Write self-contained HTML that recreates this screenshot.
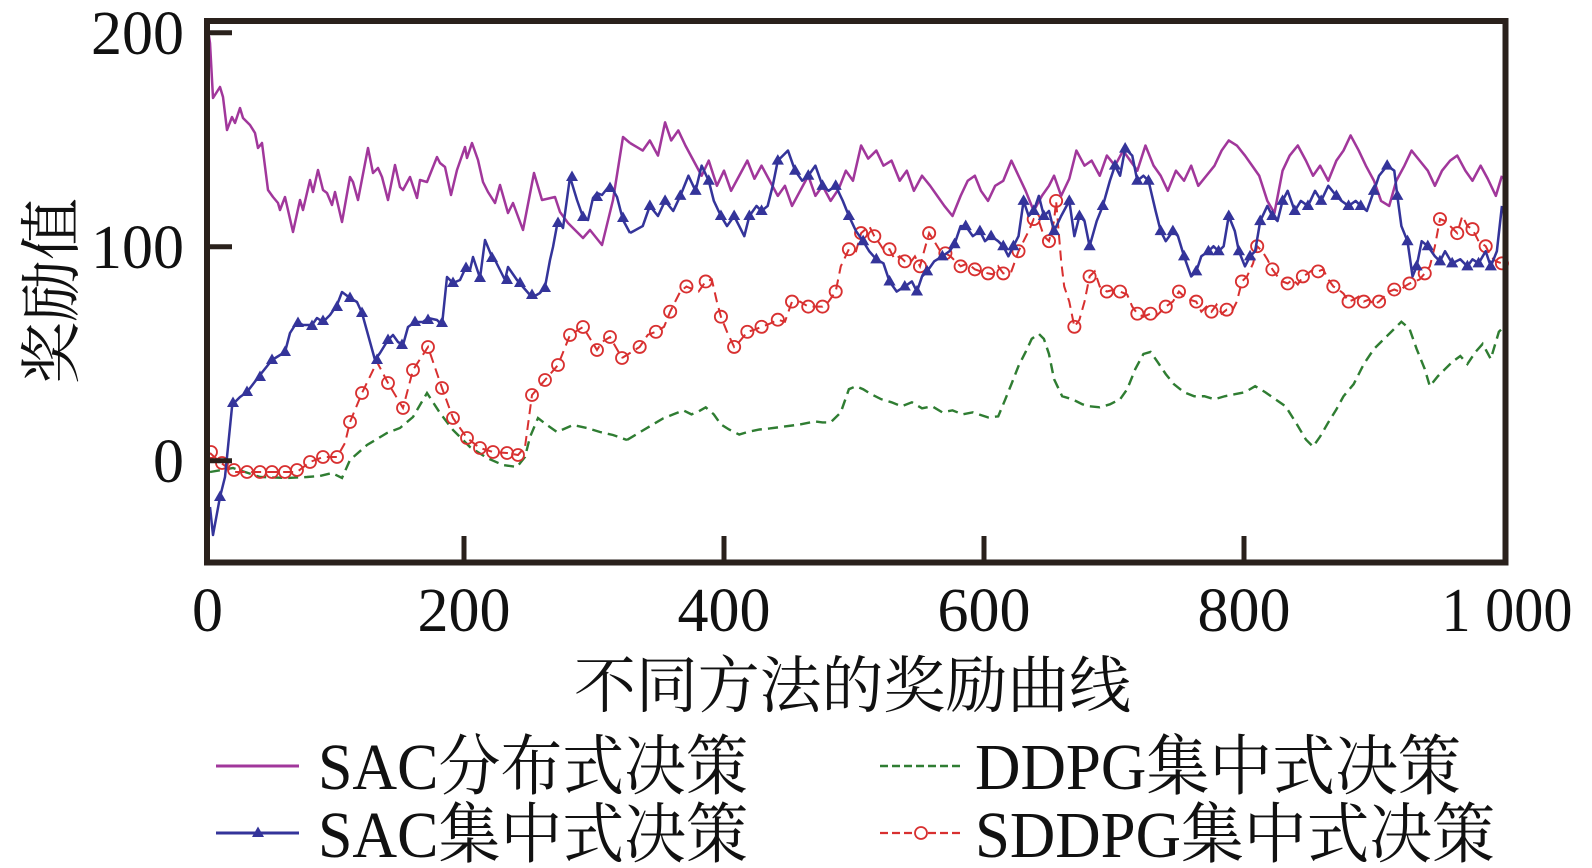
<!DOCTYPE html>
<html><head><meta charset="utf-8"><style>
html,body{margin:0;padding:0;background:#fff;}
svg{display:block;}
text{font-family:"Liberation Serif","Noto Serif CJK SC",serif;fill:#111;}
</style></head><body>
<svg width="1592" height="868" viewBox="0 0 1592 868" xmlns="http://www.w3.org/2000/svg">
<defs>
<marker id="tri" markerUnits="userSpaceOnUse" markerWidth="16" markerHeight="16" refX="8" refY="8" viewBox="0 0 16 16" overflow="visible"><path d="M8,1.5 L14,12 L2,12 Z" fill="#34349a"/></marker>
<marker id="cir" markerUnits="userSpaceOnUse" markerWidth="18" markerHeight="18" refX="9" refY="9" viewBox="0 0 18 18" overflow="visible"><circle cx="9" cy="9" r="6" fill="none" stroke="#d83030" stroke-width="1.8"/></marker>
</defs>
<rect width="1592" height="868" fill="#fff"/>

<!-- GREEN DDPG -->
<polyline fill="none" stroke="#2f7d32" stroke-width="2.4" stroke-dasharray="10 6" points="210,472 233,468 260,477 287,478 307,477 320,476 332,473 342,478 350,460 367,445 387,433 400,428 413,417 427,393 440,413 453,430 470,447 487,458 503,465 517,467 525,457 530,437 538,418 547,425 557,432 573,425 587,428 600,432 613,435 627,440"/>
<g transform="matrix(1.0156 0 0 1.007 -2.17 -0.5)">
<polyline fill="none" stroke="#2f7d32" stroke-width="2.4" stroke-dasharray="10 6" points="619.5,437.4 635,428 645,422 655,416 665,412 675,408 683,412 690,409 697,405 705,412 712,422 720,427 730,432 740,429 750,427 760,426 775,424 790,422 805,419 812,420 820,420 830,410 838,387 845,384 852,387 860,392 870,397 880,400 890,404 900,400 910,406 920,404 930,410 940,408 950,412 960,410 975,415 985,414 992,397 998,382 1005,364 1012,350 1018,337 1025,332 1030,337 1035,352 1040,377 1048,394 1058,397 1068,402 1075,404 1085,405 1095,402 1105,397 1112,387 1120,367 1128,352 1135,350 1142,360 1150,372 1158,382 1168,390 1178,394 1188,394 1198,397 1208,394 1218,392 1228,390 1238,384 1248,390 1258,397 1268,404 1278,420 1288,437 1295,444 1302,434 1310,420 1318,407 1325,394 1335,382 1345,362 1355,347 1365,337 1375,327 1382,320 1390,327 1397,347 1405,367 1410,384 1418,374 1425,367 1432,360 1440,354 1447,362 1455,350 1462,342 1470,357 1478,330 1481,327"/>
</g>

<!-- RED SDDPG -->
<polyline fill="none" stroke="#d83030" stroke-width="2" stroke-dasharray="10 6" points="210,453 220,462 233,472 247,472 260,472 272,472 285,472 297,472 310,462 323,457 337,457 345,443 350,422 362,393 377,362 388,383 403,408 413,370 428,347 442,388 453,418 467,438 480,448 493,452 507,453 518,455 525,447 532,395 545,380 558,365 570,335 583,327 597,350 602,342 610,337 622,358"/>
<polyline fill="none" stroke="none" marker-start="url(#cir)" marker-mid="url(#cir)" marker-end="url(#cir)" points="211,452 222,463 234,470 247,472 260,472 272,472 285,472 297,470 310,462 323,457 337,457 350,422 362,393 388,383 403,408 413,370 428,347 442,388 453,418 467,438 480,448 493,452 507,453 518,455 532,395 545,380 558,365 570,335 583,327 597,350 610,337 622,358"/>
<g transform="matrix(1.0156 0 0 1.007 -2.17 -0.5)">
<polyline fill="none" stroke="#d83030" stroke-width="2" stroke-dasharray="10 6" points="614.6,356 632,345 640,333 648,330 656,325 662,310 667,300 672,290 678,285 685,288 690,290 697,280 703,278 708,300 712,315 718,330 725,345 730,340 738,330 745,328 752,325 760,322 768,318 775,320 782,300 790,300 798,305 805,305 812,305 818,300 825,290 830,265 838,248 845,250 850,232 858,225 863,235 868,242 873,250 878,248 883,258 888,255 893,260 898,262 903,255 908,265 912,250 917,232 922,240 928,250 933,252 938,255 943,260 948,265 955,262 962,268 968,270 975,272 980,273 985,265 990,272 998,270 1005,250 1010,240 1015,230 1020,218 1025,220 1030,235 1035,240 1040,220 1042,200 1047,260 1050,285 1055,300 1060,325 1065,318 1070,300 1075,275 1080,270 1085,285 1092,290 1100,288 1105,290 1112,293 1117,305 1122,312 1128,315 1135,312 1140,315 1145,310 1150,305 1157,300 1163,290 1168,295 1173,298 1180,300 1185,310 1190,305 1195,310 1200,303 1205,312 1210,308 1215,310 1220,300 1225,280 1230,275 1236,262 1240,245 1245,250 1250,258 1255,268 1260,275 1265,280 1270,282 1275,278 1280,283 1285,275 1290,272 1295,268 1300,270 1305,268 1310,278 1315,285 1320,288 1325,292 1330,300 1335,298 1340,295 1345,300 1350,298 1355,303 1360,300 1365,295 1370,290 1375,288 1380,290 1385,285 1390,282 1395,280 1400,278 1405,272 1410,265 1415,245 1420,218 1425,220 1430,225 1437,232 1442,215 1447,225 1452,228 1458,240 1465,245 1470,255 1475,260 1481,262"/>
<polyline fill="none" stroke="none" marker-start="url(#cir)" marker-mid="url(#cir)" marker-end="url(#cir)" points="632,345 648,330 662,310 678,285 697,280 712,315 725,345 738,330 752,325 768,318 782,300 798,305 812,305 825,290 838,248 850,232 863,235 878,248 893,260 908,265 917,232 933,252 948,265 962,268 975,272 990,272 1005,250 1020,218 1035,240 1042,200 1060,325 1075,275 1092,290 1105,290 1122,312 1135,312 1150,305 1163,290 1180,300 1195,310 1210,308 1225,280 1240,245 1255,268 1270,282 1285,275 1300,270 1315,285 1330,300 1345,300 1360,300 1375,288 1390,282 1405,272 1420,218 1437,232 1452,228 1465,245 1481,262"/>
</g>

<!-- PURPLE SAC distributed -->
<polyline fill="none" stroke="#a1379b" stroke-width="2.5" stroke-linejoin="round" points="209,36 210,43 213,98 220,87 223,97 227,130 232,117 235,123 240,108 243,118 250,125 255,133 258,148 262,143 268,190 273,197 278,203 280,210 285,197 293,232 300,200 303,210 310,180 313,192 318,170 323,190 327,193 332,205 335,192 342,222 350,177 353,182 358,200 368,148 373,173 378,168 382,177 388,200 395,165 400,187 403,190 410,177 417,198 420,180 427,182 437,157 440,163 445,167 451,195 457,170 465,147 467,158 472,143 478,160 483,182 488,192 495,203 500,185 508,213 513,203 523,230 534,173 542,200 555,197 560,212 568,223 575,230 583,238 590,230 602,245 613,200 623,137 630,143"/>
<g transform="matrix(1.0156 0 0 1.007 -2.17 -0.5)">
<polyline fill="none" stroke="#a1379b" stroke-width="2.5" stroke-linejoin="round" points="622.5,142.5 635,150 642,140 650,155 657,122 663,140 670,130 677,145 685,160 693,175 700,160 708,185 715,170 722,190 730,175 738,160 745,178 752,165 760,180 768,195 775,185 782,205 790,190 798,175 805,195 812,185 820,200 828,188 835,170 842,180 850,145 857,158 865,150 872,165 880,160 888,180 895,170 902,190 910,175 918,185 925,195 932,205 940,215 948,195 955,180 962,175 968,190 975,200 982,185 990,180 998,160 1005,175 1012,190 1020,210 1028,195 1035,185 1040,175 1047,195 1055,178 1062,150 1070,165 1077,160 1085,175 1092,155 1100,165 1108,150 1115,160 1122,170 1130,145 1138,165 1145,175 1152,190 1160,170 1168,180 1175,165 1182,185 1190,175 1198,165 1205,150 1212,140 1220,145 1228,155 1235,165 1242,175 1250,200 1257,212 1265,170 1272,155 1280,145 1288,160 1295,175 1302,165 1310,180 1318,160 1325,150 1332,135 1340,150 1347,165 1355,180 1362,200 1370,205 1377,180 1385,165 1392,150 1400,160 1408,170 1415,185 1422,170 1430,160 1437,155 1445,170 1452,180 1460,165 1467,178 1475,195 1481,175"/>
</g>

<!-- BLUE SAC centralized -->
<polyline fill="none" stroke="#34349a" stroke-width="2.5" stroke-linejoin="round" points="210,507 213,535 220,497 225,477 232,407 235,402 240,397 247,392 260,375 272,360 285,352 290,333 297,322 303,325 312,325 317,318 323,322 330,315 337,305 342,292 350,298 357,302 362,313 375,360 380,353 388,340 393,335 398,342 403,345 408,327 415,322 423,322 428,318 437,320 442,325 447,277 453,283 460,280 466,267 470,270 473,257 480,278 485,240 492,257 495,260 505,280 508,267 517,280 523,287 530,295 533,297 540,293 545,287 550,260 553,247 558,220 563,228 570,177 577,200 583,217 588,220 593,198 597,193 602,195 610,185 613,190 617,197 623,220 630,233"/>
<polyline fill="none" stroke="none" marker-start="url(#tri)" marker-mid="url(#tri)" marker-end="url(#tri)" points="220,497 233,403 247,392 260,377 272,360 285,352 298,323 312,326 323,321 337,307 350,298 362,313 377,360 388,340 402,345 415,322 428,320 442,323 453,283 466,268 480,278 492,258 507,280 520,283 532,295 545,288 558,223 572,177 583,217 597,197 610,188 623,218"/>
<g transform="matrix(1.0156 0 0 1.007 -2.17 -0.5)">
<polyline fill="none" stroke="#34349a" stroke-width="2.5" stroke-linejoin="round" points="622.5,231.9 635,225 642,205 650,215 657,200 665,210 672,195 680,175 687,190 693,165 700,180 705,200 712,215 718,225 725,215 730,225 735,235 740,215 747,205 752,210 758,205 763,185 768,160 773,155 778,150 785,170 792,180 798,175 805,165 812,185 818,190 825,185 832,200 838,215 845,230 852,240 858,250 865,258 872,262 878,280 885,290 893,285 900,280 905,290 910,275 915,270 922,260 930,255 937,250 942,243 948,225 953,225 960,235 967,230 972,240 978,235 985,240 990,245 995,255 1000,245 1005,235 1010,200 1015,215 1020,210 1025,195 1030,215 1035,210 1040,230 1047,215 1055,200 1060,235 1065,215 1070,220 1075,245 1082,220 1088,205 1095,180 1100,165 1105,175 1110,148 1117,155 1122,180 1128,175 1133,180 1140,210 1145,230 1150,240 1157,230 1162,235 1168,255 1175,275 1180,270 1185,255 1192,250 1197,245 1202,250 1207,245 1212,215 1218,230 1222,250 1228,265 1233,255 1238,250 1243,220 1250,205 1255,215 1260,220 1265,200 1270,190 1277,210 1283,200 1290,205 1297,190 1303,200 1310,185 1318,195 1323,200 1330,205 1337,200 1342,205 1348,210 1355,190 1360,175 1368,165 1375,170 1378,195 1382,225 1388,240 1393,275 1397,265 1402,240 1408,245 1415,255 1420,260 1425,250 1432,262 1440,258 1447,265 1452,258 1458,262 1465,250 1470,265 1476,250 1481,205"/>
<polyline fill="none" stroke="none" marker-start="url(#tri)" marker-mid="url(#tri)" marker-end="url(#tri)" points="642,205 657,200 672,195 687,190 700,180 712,215 725,215 740,215 752,210 768,160 785,170 798,175 812,185 825,185 838,215 852,240 865,258 878,280 893,285 905,290 915,270 930,255 942,243 953,225 967,230 978,235 990,245 1000,245 1010,200 1020,210 1030,215 1040,230 1055,200 1065,215 1075,245 1088,205 1100,165 1110,148 1122,180 1133,180 1145,230 1157,230 1168,255 1180,270 1192,250 1202,250 1212,215 1222,250 1233,255 1243,220 1255,215 1265,200 1277,210 1290,205 1303,200 1318,195 1330,205 1342,205 1355,190 1368,165 1378,195 1388,240 1397,265 1408,245 1420,260 1432,262 1447,265 1458,262 1470,265"/>
</g>

<!-- FRAME & TICKS -->
<rect x="207" y="21" width="1298.5" height="541.5" fill="none" stroke="#2a211c" stroke-width="6"/>
<g stroke="#2a211c" stroke-width="5">
<line x1="210" y1="32.7" x2="232" y2="32.7"/>
<line x1="210" y1="246.7" x2="232" y2="246.7"/>
<line x1="210" y1="460.7" x2="232" y2="460.7"/>
<line x1="464" y1="536" x2="464" y2="560"/>
<line x1="724" y1="536" x2="724" y2="560"/>
<line x1="984" y1="536" x2="984" y2="560"/>
<line x1="1244" y1="536" x2="1244" y2="560"/>
</g>

<!-- TICK LABELS -->
<g font-size="62" text-anchor="end">
<text x="184" y="54">200</text>
<text x="184" y="268">100</text>
<text x="184" y="482">0</text>
</g>
<g font-size="62" text-anchor="middle">
<text x="207.5" y="631">0</text>
<text x="464" y="631">200</text>
<text x="724" y="631">400</text>
<text x="984" y="631">600</text>
<text x="1244" y="631">800</text>
<text x="1507" y="631" textLength="131" lengthAdjust="spacingAndGlyphs">1 000</text>
</g>

<!-- AXIS TITLES -->
<text x="574" y="707" font-size="62" textLength="557" lengthAdjust="spacingAndGlyphs">不同方法的奖励曲线</text>
<text transform="translate(73,291) rotate(-90)" x="0" y="0" font-size="62" text-anchor="middle">奖励值</text>

<!-- LEGEND -->
<line x1="216" y1="766" x2="299" y2="766" stroke="#a1379b" stroke-width="3"/>
<line x1="216" y1="833" x2="299" y2="833" stroke="#34349a" stroke-width="3"/>
<path d="M258,826.5 L264,837 L252,837 Z" fill="#34349a"/>
<line x1="880" y1="766" x2="962" y2="766" stroke="#2f7d32" stroke-width="2.6" stroke-dasharray="8 4"/>
<line x1="880" y1="833" x2="962" y2="833" stroke="#d83030" stroke-width="2.2" stroke-dasharray="8 4"/>
<circle cx="921" cy="833" r="6" fill="#fff" stroke="#d83030" stroke-width="1.8"/>
<g font-size="66">
<text x="318" y="789" textLength="430" lengthAdjust="spacingAndGlyphs">SAC分布式决策</text>
<text x="318" y="857" textLength="430" lengthAdjust="spacingAndGlyphs">SAC集中式决策</text>
<text x="975" y="789" textLength="486" lengthAdjust="spacingAndGlyphs">DDPG集中式决策</text>
<text x="975" y="857" textLength="520" lengthAdjust="spacingAndGlyphs">SDDPG集中式决策</text>
</g>
</svg>
</body></html>
